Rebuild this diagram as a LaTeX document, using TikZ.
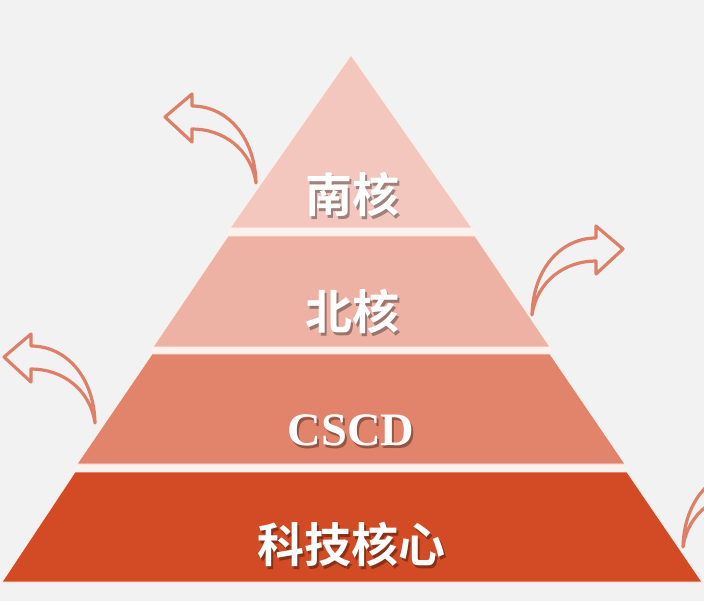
\documentclass[tikz,border=0pt]{standalone}
\usepackage{fontspec}
\newfontfamily\cjk{Noto Sans CJK SC}[BoldFont={Noto Sans CJK SC Bold}]
\newfontfamily\serifbold{Liberation Serif}
\definecolor{bgc}{RGB}{242,242,242}
\definecolor{gapc}{RGB}{252,241,236}
\definecolor{lay1}{RGB}{243,198,190}
\definecolor{lay2}{RGB}{238,178,165}
\definecolor{lay3}{RGB}{226,131,108}
\definecolor{lay4}{RGB}{210,75,36}
\definecolor{arrc}{RGB}{222,127,104}
\newcommand{\shadowed}[2]{\makebox[0pt][l]{\hspace{2pt}\raisebox{-2.5pt}{\textcolor{#1}{#2}}}#2}
\tikzset{
  layer/.style={draw=gapc, line width=0.8pt, line join=round},
  curvearrow/.style={draw=arrc, line width=3.2pt, line join=round, line cap=round},
  lbl/.style={text=white, font=\cjk\bfseries\fontsize{47}{50}\selectfont, inner sep=0pt},
  lbllat/.style={text=white, font=\serifbold\bfseries\fontsize{46.5}{50}\selectfont, inner sep=0pt}
}
\newcommand{\curvedarrowshape}{(0,0) -- (27,-23) -- (27,-11) .. controls (62,-11) and (90,20) .. (91,66) .. controls (86,32) and (58,12) .. (27,12) -- (27,25) -- cycle}
\begin{document}
\begin{tikzpicture}[x=1pt, y=-1pt]
  \fill[bgc] (0,0) rectangle (704,601);
  \useasboundingbox (0,0) rectangle (704,601);
  \clip (0,0) rectangle (704,601);
  % gap envelope
  \fill[gapc] (351,54) -- (473,228) -- (476,236) -- (551,347) -- (551,354) -- (626,464) -- (628,472) -- (703,583) -- (1,583) -- (74,472) -- (76,464) -- (151,354) -- (152,347) -- (227,236) -- (229,228) -- cycle;
  % layers
  \path[layer, fill=lay1] (351,55) -- (472,228) -- (230,228) -- cycle;
  \path[layer, fill=lay2] (228,236) -- (475,236) -- (550,347) -- (153,347) -- cycle;
  \path[layer, fill=lay3] (152,354) -- (550,354) -- (625,464) -- (77,464) -- cycle;
  \path[layer, fill=lay4] (75,472) -- (627,472) -- (702,582) -- (2,582) -- cycle;
  % labels (each with its drop shadow)
  \node[lbl] (t1) at (352,196) {\shadowed{lay1!65!black}{南核}};
  \node[lbl] (t2) at (352,313) {\shadowed{lay2!65!black}{北核}};
  \node[lbllat] (t3) at (351,432) {\shadowed{lay3!65!black}{CSCD}};
  \node[lbl] (t4) at (351,546) {\shadowed{lay4!65!black}{科技核心}};
  % curved arrows
  \begin{scope}[shift={(165,117)}]
    \path[curvearrow] \curvedarrowshape;
  \end{scope}
  \begin{scope}[shift={(623,249)}, xscale=-1]
    \path[curvearrow] \curvedarrowshape;
  \end{scope}
  \begin{scope}[shift={(4,357)}]
    \path[curvearrow] \curvedarrowshape;
  \end{scope}
  \begin{scope}[shift={(774,481)}, xscale=-1]
    \path[curvearrow] \curvedarrowshape;
  \end{scope}
\end{tikzpicture}
\end{document}
